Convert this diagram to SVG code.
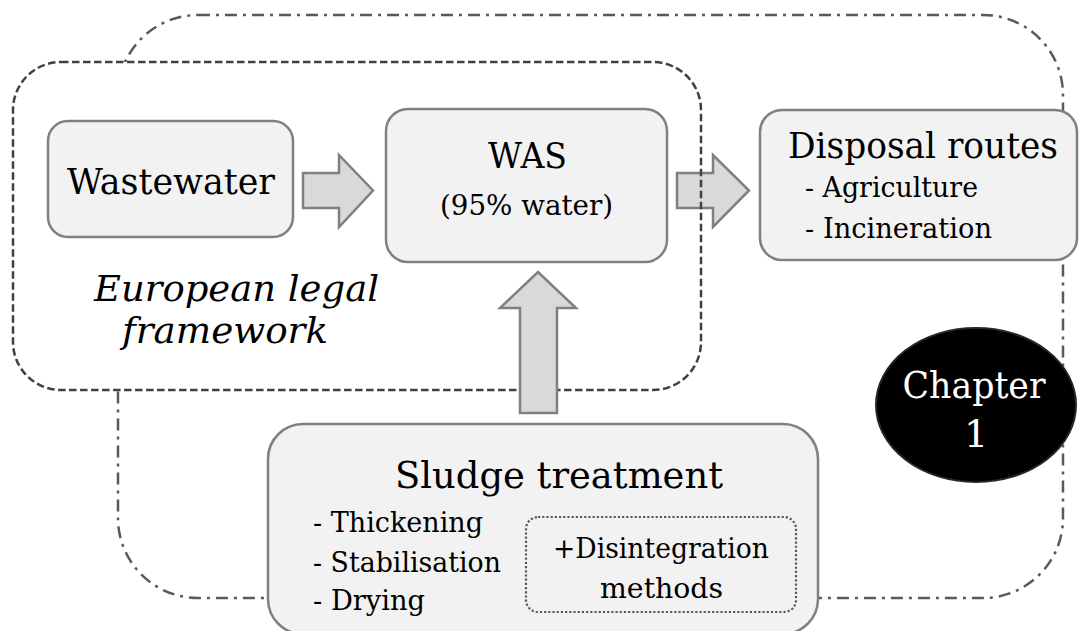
<svg xmlns="http://www.w3.org/2000/svg" width="1079" height="631" viewBox="0 0 1079 631">
<style>
.box{fill:#f2f2f2;stroke:#808080;stroke-width:2.5}
.arrow{fill:#d9d9d9;stroke:#808080;stroke-width:2.5;stroke-linejoin:miter}
.t{font-family:"DejaVu Serif","Liberation Serif",serif;fill:#000}
.big{font-size:35px}
.sm{font-size:27px}
.it{font-style:italic;font-size:35px}
</style>
<rect width="1079" height="631" fill="#ffffff"/>
<g id="scope-outer">
<rect x="118" y="15" width="945" height="583" rx="80" ry="80" fill="none" stroke="#595959" stroke-width="2.5" stroke-dasharray="12 6 3 6"/>
</g>
<g id="legal-framework">
<rect x="13" y="62" width="688" height="328" rx="48" ry="48" fill="#ffffff" stroke="none"/>
</g>
<g id="connectors">
<path class="arrow" d="M303,173 H339 V155 L373,190.5 L339,227 V208 H303 Z"/>
<path class="arrow" d="M677,173 H713 V155 L749,190.5 L713,227 V208 H677 Z"/>
</g>
<g id="legal-framework-border">
<rect x="13" y="62" width="688" height="328" rx="48" ry="48" fill="none" stroke="#404040" stroke-width="2.5" stroke-dasharray="7.5 3.5"/>
<text class="t it" x="94" y="301" textLength="285" lengthAdjust="spacingAndGlyphs">European legal</text>
<text class="t it" x="122" y="343" textLength="206" lengthAdjust="spacingAndGlyphs">framework</text>
</g>
<g id="connectors-up">
<path class="arrow" d="M520,413 V308 H500 L538,272 L576,308 H557 V413 Z"/>
</g>
<g id="wastewater">
<rect class="box" x="48" y="121" width="245" height="116" rx="20" ry="20"/>
<text class="t big" x="67" y="194" textLength="208" lengthAdjust="spacingAndGlyphs">Wastewater</text>
</g>
<g id="was">
<rect class="box" x="386" y="109" width="281" height="153" rx="22" ry="22"/>
<text class="t big" x="488" y="168" textLength="79" lengthAdjust="spacingAndGlyphs">WAS</text>
<text class="t sm" x="440" y="215" textLength="173" lengthAdjust="spacingAndGlyphs">(95% water)</text>
</g>
<g id="disposal">
<rect class="box" x="760" y="110" width="317" height="150" rx="22" ry="22"/>
<text class="t big" x="788" y="158" textLength="270" lengthAdjust="spacingAndGlyphs">Disposal routes</text>
<text class="t sm" x="805" y="197" textLength="173" lengthAdjust="spacingAndGlyphs">- Agriculture</text>
<text class="t sm" x="805" y="238" textLength="187" lengthAdjust="spacingAndGlyphs">- Incineration</text>
</g>
<g id="sludge">
<rect class="box" x="268" y="424" width="550" height="210" rx="35" ry="35"/>
<text class="t" font-size="38" x="395" y="488" textLength="328" lengthAdjust="spacingAndGlyphs">Sludge treatment</text>
<text class="t sm" x="313" y="532" textLength="170" lengthAdjust="spacingAndGlyphs">- Thickening</text>
<text class="t sm" x="313" y="572" textLength="188" lengthAdjust="spacingAndGlyphs">- Stabilisation</text>
<text class="t sm" x="313" y="610" textLength="112" lengthAdjust="spacingAndGlyphs">- Drying</text>
<g id="disintegration">
<rect x="526" y="517" width="270" height="95" rx="12" ry="12" fill="none" stroke="#595959" stroke-width="2.2" stroke-dasharray="2.2 2"/>
<text class="t sm" x="553" y="558" textLength="216" lengthAdjust="spacingAndGlyphs">+Disintegration</text>
<text class="t sm" x="600" y="598" textLength="123" lengthAdjust="spacingAndGlyphs">methods</text>
</g>
</g>
<g id="chapter">
<ellipse cx="976" cy="405" rx="100" ry="77" fill="#000000" stroke="#262626" stroke-width="2"/>
<text class="t" font-size="38" style="fill:#ffffff" x="974" y="398" text-anchor="middle" textLength="143" lengthAdjust="spacingAndGlyphs">Chapter</text>
<text class="t" font-size="38" style="fill:#ffffff" x="976" y="447" text-anchor="middle">1</text>
</g>
</svg>
